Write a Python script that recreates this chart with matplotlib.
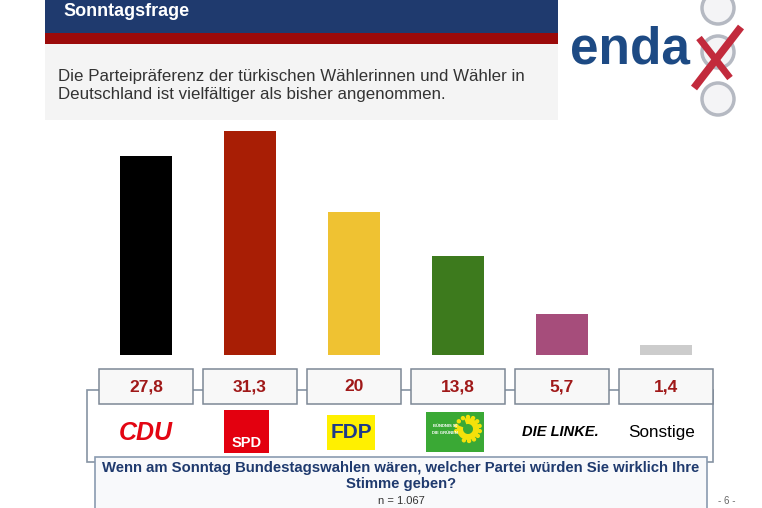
import numpy as np
import matplotlib
matplotlib.use("Agg")
import matplotlib.pyplot as plt
from matplotlib.patches import Rectangle, Circle, Wedge

plt.rcParams['font.family'] = ['Liberation Sans', 'DejaVu Sans']

# data
parties = ['CDU', 'SPD', 'FDP', 'Grüne', 'Die Linke', 'Sonstige']
values = [27.8, 31.3, 20, 13.8, 5.7, 1.4]
value_labels = ['27,8', '31,3', '20', '13,8', '5,7', '1,4']
bar_colors = ['#000000', '#a81e05', '#efc232', '#3d7a1d', '#a64d7b', '#cccccc']

title = 'Sonntagsfrage'
subtitle = ('Die Parteipräferenz der türkischen Wählerinnen und Wähler in\n'
            'Deutschland ist vielfältiger als bisher angenommen.')
question = ('Wenn am Sonntag Bundestagswahlen wären, welcher Partei würden Sie wirklich Ihre\n'
            'Stimme geben?')
sample = 'n = 1.067'

W, H = 762, 508
fig = plt.figure(figsize=(W / 100, H / 100), dpi=100)
fig.patch.set_facecolor('white')

# background axes in pixel coords for the slide decoration
bg = fig.add_axes([0, 0, 1, 1], zorder=0)
bg.set_xlim(0, W)
bg.set_ylim(H, 0)
bg.axis('off')

navy = '#1f3a6e'
# header
bg.add_patch(Rectangle((45, 0), 513, 33, color=navy, lw=0))
bg.add_patch(Rectangle((45, 33), 513, 11, color='#9b0a0a', lw=0))
bg.add_patch(Rectangle((45, 44), 513, 76, color='#f4f4f4', lw=0))
bg.text(63, 11, title, color='white', fontsize=13, fontweight='bold', va='center')
bg.text(58, 85, subtitle, color='#333333', fontsize=12.2, va='center', linespacing=1.25)

# logo
for cy in [8, 52, 99]:
    bg.add_patch(Circle((718, cy), 16, facecolor='#f4f4f6', edgecolor='#b5b9c2', lw=2.5))
bg.text(570, 63, 'enda', color='#1d4a84', fontsize=37, fontweight='bold', va='baseline')
bg.plot([741, 694], [27, 88], color='#c22a3c', lw=5.5, solid_capstyle='butt')
bg.plot([699, 730], [38, 78], color='#c22a3c', lw=5, solid_capstyle='butt')

# bracket frame and question box
bg.add_patch(Rectangle((87, 390), 626, 72, facecolor='white', edgecolor='#8693a3', lw=1.2))
bg.add_patch(Rectangle((95, 457), 612, 60, facecolor='#f8f9fb', edgecolor='#8a9bb0', lw=1.2))
bg.text(401, 476, question, color=navy, fontsize=10.7, fontweight='bold',
        ha='center', va='center', linespacing=1.15)
bg.text(401, 501, sample, color='#333333', fontsize=8, ha='center', va='center')
bg.text(727, 501, '- 6 -', color='#666666', fontsize=7, ha='center', va='center')

# party logos
bg.text(146, 433, 'CDU', color='#e30613', fontsize=18, fontweight='bold',
        fontstyle='italic', ha='center', va='center')
bg.add_patch(Rectangle((224, 410), 45, 43, color='#e3000f', lw=0))
bg.text(246.5, 443, 'SPD', color='white', fontsize=10.5, fontweight='bold', ha='center', va='center')
bg.add_patch(Rectangle((327, 415), 48, 35, color='#fff000', lw=0))
bg.text(351, 432, 'FDP', color='#1d3a8a', fontsize=15, fontweight='bold', ha='center', va='center')
bg.add_patch(Rectangle((426, 412), 58, 40, color='#3aa935', lw=0))
bg.add_patch(Wedge((468, 429), 11, -110, 200, width=6, color='#f5e10a', lw=0))
for ang in np.arange(-110, 200, 25):
    a = np.deg2rad(ang)
    bg.add_patch(Circle((468 + 12 * np.cos(a), 429 - 12 * np.sin(a)), 2.2, color='#f5e10a', lw=0))
bg.text(445, 426, 'BÜNDNIS 90', color='white', fontsize=3, ha='center', va='center', fontweight='bold')
bg.text(445, 433, 'DIE GRÜNEN', color='white', fontsize=3, ha='center', va='center', fontweight='bold')
bg.text(560, 432, 'DIE LINKE.', color='black', fontsize=10.5, fontweight='bold',
        fontstyle='italic', ha='center', va='center')
bg.text(662, 432, 'Sonstige', color='black', fontsize=12.3, ha='center', va='center')

# chart axes: bar centres at 146 + 104*i px, baseline at y=355 px
px_per_unit = 7.16
ymax = 32
left = 146 - 52
ax = fig.add_axes([left / W, 1 - 355 / H, 624 / W, ymax * px_per_unit / H], zorder=1)
ax.patch.set_alpha(0)
x = np.arange(len(parties))
ax.bar(x, values, width=0.5, color=bar_colors, edgecolor='none')
ax.set_xlim(-0.5, len(parties) - 0.5)
ax.set_ylim(0, ymax)
ax.axis('off')

# value boxes under the bars
tr = ax.get_xaxis_transform()
ax_h = ymax * px_per_unit
box_bottom = -(404 - 355) / ax_h
box_h = 35 / ax_h
for i, lab in enumerate(value_labels):
    ax.add_patch(Rectangle((x[i] - 0.455, box_bottom), 0.91, box_h, transform=tr,
                           facecolor='#f8f8f8', edgecolor='#7d8896', lw=1.1, clip_on=False))
    ax.text(x[i], box_bottom + box_h / 2, lab, transform=tr, color='#a01919',
            fontsize=12.5, fontweight='bold', ha='center', va='center', clip_on=False)

fig.savefig('out.png', dpi=100)
